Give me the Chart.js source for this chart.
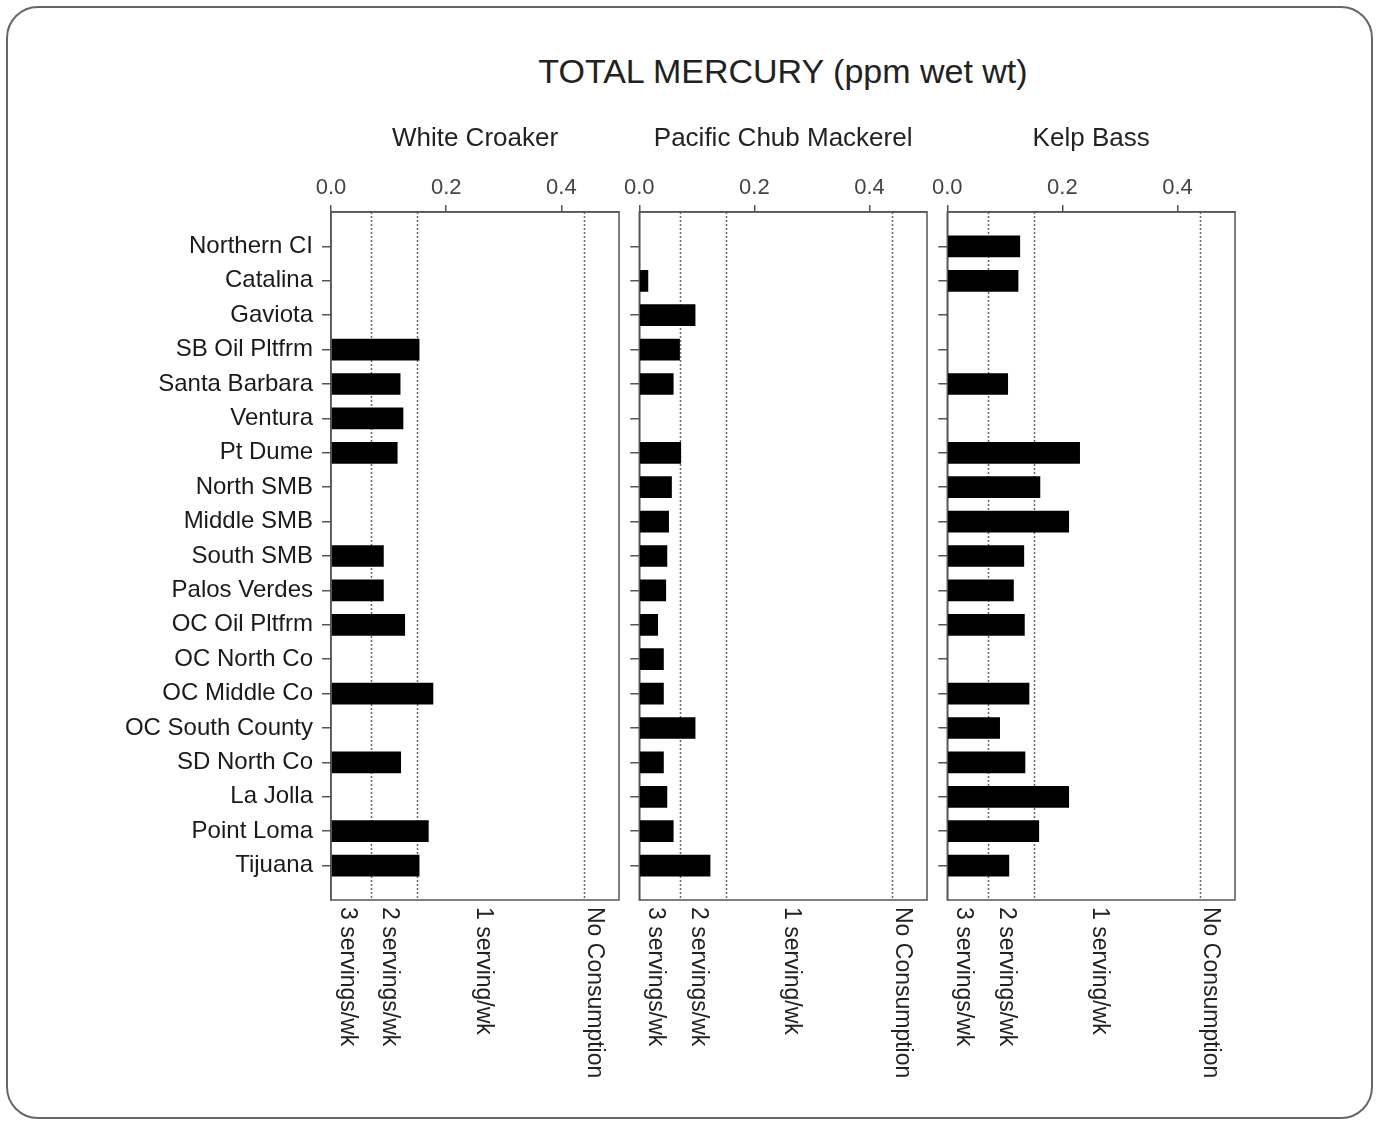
<!DOCTYPE html>
<html>
<head>
<meta charset="utf-8">
<title>Total mercury (ppm wet wt)</title>
<script src="https://cdn.jsdelivr.net/npm/chart.js@4.4.1/dist/chart.umd.min.js"></script>
<style>
  html, body { margin: 0; padding: 0; background: #fff; }
  body {
    width: 1377px;
    height: 1122px;
    position: relative;
    overflow: hidden;
    font-family: "Liberation Sans", Arial, sans-serif;
  }
  .frame {
    position: absolute;
    left: 6px;
    top: 6px;
    width: 1363px;
    height: 1109px;
    border: 2px solid #666;
    border-radius: 32px;
  }
  h1 {
    position: absolute;
    left: 283px;
    top: 54px;
    width: 1000px;
    margin: 0;
    text-align: center;
    font-size: 34px;
    line-height: 34px;
    font-weight: normal;
    color: #222;
  }
  canvas { position: absolute; top: 100px; }
  #croaker { left: 0; }
  #mackerel { left: 620px; }
  #kelp { left: 928px; }
</style>
</head>
<body>
<div class="frame"></div>
<h1>TOTAL MERCURY (ppm wet wt)</h1>
<canvas id="croaker" width="640" height="1000"></canvas>
<canvas id="mackerel" width="330" height="1000"></canvas>
<canvas id="kelp" width="330" height="1000"></canvas>

<script>
// sampling sites, north to south
const sites = [
  "Northern CI", "Catalina", "Gaviota", "SB Oil Pltfrm", "Santa Barbara",
  "Ventura", "Pt Dume", "North SMB", "Middle SMB", "South SMB",
  "Palos Verdes", "OC Oil Pltfrm", "OC North Co", "OC Middle Co",
  "OC South County", "SD North Co", "La Jolla", "Point Loma", "Tijuana"
];

// mean total mercury, ppm wet weight (null = species not sampled)
const whiteCroaker = [
  null, null, null, 0.153, 0.120, 0.125, 0.115, null, null, 0.091,
  0.091, 0.128, null, 0.177, null, 0.121, null, 0.169, 0.153
];
const chubMackerel = [
  null, 0.015, 0.097, 0.070, 0.059, null, 0.072, 0.056, 0.051, 0.048,
  0.046, 0.032, 0.042, 0.042, 0.097, 0.042, 0.048, 0.059, 0.123
];
const kelpBass = [
  0.126, 0.123, null, null, 0.105, null, 0.230, 0.161, 0.211, 0.133,
  0.115, 0.134, null, 0.142, 0.091, 0.135, 0.211, 0.159, 0.107
];

const xTicks = [0, 0.2, 0.4];

// advisory tissue levels and the advice that goes with each band
const thresholds = [0.07, 0.15, 0.44];
const servingLabels = ["3 servings/wk", "2 servings/wk", "1 serving/wk", "No Consumption"];
const servingLabelAt = [0.028, 0.102, 0.264, 0.458];

const FONT = "'Liberation Sans', Arial, sans-serif";
Chart.defaults.font.family = FONT;

const panelDecor = {
  id: "panelDecor",
  beforeDatasetsDraw(chart) {
    const {ctx, chartArea, scales} = chart;
    ctx.save();
    ctx.strokeStyle = "#666";
    ctx.lineWidth = 1.5;
    ctx.setLineDash([2, 2]);
    thresholds.forEach(t => {
      const x = Math.round(scales.x.getPixelForValue(t)) + 0.5;
      ctx.beginPath();
      ctx.moveTo(x, chartArea.top);
      ctx.lineTo(x, chartArea.bottom);
      ctx.stroke();
    });
    ctx.restore();
  },
  afterDraw(chart, args, opts) {
    const {ctx, chartArea, scales} = chart;
    ctx.save();
    ctx.strokeStyle = "#555";
    ctx.lineWidth = 1.5;
    ctx.strokeRect(
      chartArea.left, chartArea.top,
      chartArea.right - chartArea.left, chartArea.bottom - chartArea.top
    );

    // species name centred over the plot box
    ctx.fillStyle = "#222";
    ctx.font = "26px " + FONT;
    ctx.textAlign = "center";
    ctx.textBaseline = "alphabetic";
    ctx.fillText(opts.title, (chartArea.left + chartArea.right) / 2, 46);

    // advice bands, written downwards under the box
    ctx.font = "23px " + FONT;
    ctx.textAlign = "left";
    ctx.textBaseline = "middle";
    servingLabels.forEach((label, i) => {
      ctx.save();
      ctx.translate(scales.x.getPixelForValue(servingLabelAt[i]), chartArea.bottom + 7);
      ctx.rotate(Math.PI / 2);
      ctx.fillText(label, 0, 0);
      ctx.restore();
    });
    ctx.restore();
  }
};

function makePanel(id, title, values, showSites, axisWidth, rightPad) {
  const points = values
    .map((v, i) => ({x: v, y: i + 1}))
    .filter(p => p.x !== null);

  const axisLine = {display: true, color: "#555", width: 1.5};

  return new Chart(document.getElementById(id), {
    type: "bar",
    data: {
      datasets: [{
        data: points,
        backgroundColor: "#000",
        borderWidth: 0,
        barThickness: 21
      }]
    },
    options: {
      indexAxis: "y",
      responsive: false,
      animation: false,
      layout: {padding: {top: 0, left: 0, right: rightPad, bottom: 200}},
      plugins: {
        legend: {display: false},
        tooltip: {enabled: false},
        panelDecor: {title: title}
      },
      scales: {
        x: {
          type: "linear",
          position: "top",
          min: 0,
          max: 0.5,
          afterBuildTicks: s => { s.ticks = xTicks.map(v => ({value: v})); },
          afterFit: s => { s.height = 112; },
          ticks: {
            color: "#444",
            font: {size: 22},
            padding: 4,
            maxRotation: 0,
            callback: v => v.toFixed(1)
          },
          grid: {drawOnChartArea: false, tickLength: 7, color: "#555", lineWidth: 1.5},
          border: axisLine
        },
        y: {
          type: "linear",
          offset: false,
          min: 0,
          max: sites.length + 1,
          reverse: true,
          afterBuildTicks: s => { s.ticks = sites.map((n, i) => ({value: i + 1})); },
          afterFit: s => { s.width = axisWidth; },
          ticks: {
            display: showSites,
            autoSkip: false,
            color: "#1a1a1a",
            font: {size: 24},
            padding: 9,
            callback: v => sites[v - 1]
          },
          grid: {
            offset: false,
            drawOnChartArea: false,
            tickLength: 9,
            color: "#555",
            lineWidth: 1.5
          },
          border: axisLine
        }
      }
    },
    plugins: [panelDecor]
  });
}

makePanel("croaker", "White Croaker", whiteCroaker, true, 331, 21);
makePanel("mackerel", "Pacific Chub Mackerel", chubMackerel, false, 18, 23);
makePanel("kelp", "Kelp Bass", kelpBass, false, 18, 23);
</script>
</body>
</html>
